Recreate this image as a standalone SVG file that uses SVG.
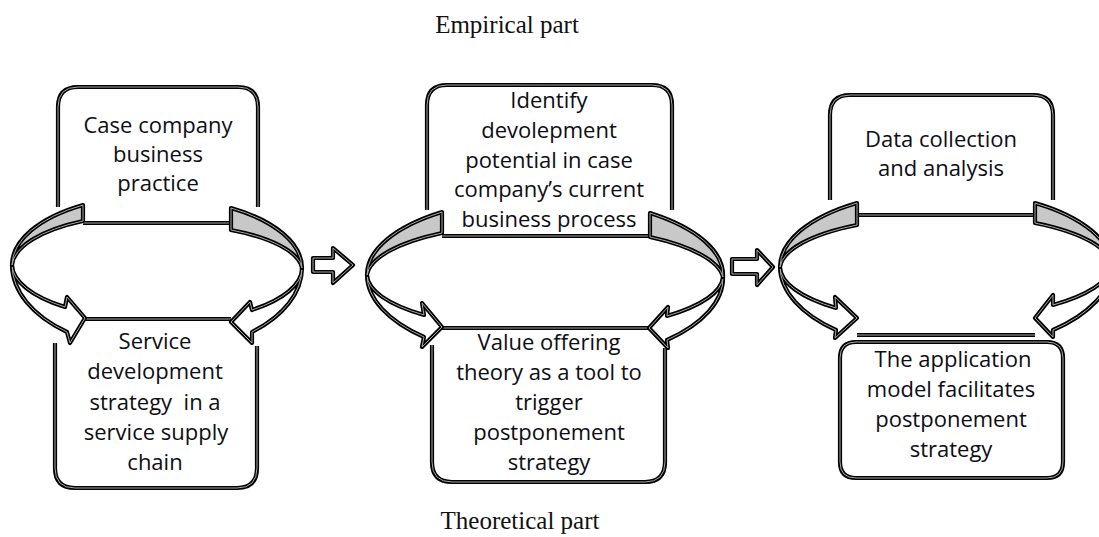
<svg xmlns="http://www.w3.org/2000/svg" xmlns:xlink="http://www.w3.org/1999/xlink" width="1099" height="537" viewBox="0 0 1099 537">
<style>
.ob{stroke:#000;stroke-width:4.2;stroke-linejoin:round}
.ib{fill:none;stroke:#a8a8a8;stroke-width:1;stroke-linejoin:round}
.nf{fill:none}
.wf{fill:#fff}
.gf{fill:#c8c8c8}
.t{font-family:"Open Sans","Noto Sans",sans-serif;font-size:22px;fill:#0d0d14;text-anchor:middle}
.h{font-family:"Liberation Serif","Times New Roman",serif;font-size:25px;fill:#111;text-anchor:middle}
</style>
<defs>
<path id="b1t" d="M58,207 V107 Q58,87 78,87 H238 Q258,87 258,107 V207 M83,223 H231"/>
<path id="b1b" d="M85,319 H231 M55,343 V468 Q55,488 75,488 H237 Q257,488 257,468 V346"/>
<path id="b2t" d="M427,210 V105 Q427,85 447,85 H652 Q672,85 672,105 V210 M442,236 H650"/>
<path id="b2b" d="M442,328 H649 M432,345 V462 Q432,482 452,482 H645 Q665,482 665,462 V348"/>
<path id="b3t" d="M830,200 V115 Q830,95 850,95 H1033 Q1053,95 1053,115 V200 M857,215 H1035"/>
<path id="b3b" d="M857,335 H1035 M856,342 H1047 Q1063,342 1063,358 V462 Q1063,478 1047,478 H856 Q840,478 840,462 V358 Q840,342 856,342 Z"/>
<path id="g1l" d="M83,205 A145,70 0 0 0 12,265 A141,53 0 0 1 83,221 Z"/>
<path id="w1l" d="M12,265 A145,86 0 0 0 67,332 L70,343 L85,318 L67,297 L65,307 A142,55 0 0 1 12,265 Z"/>
<path id="g1r" d="M231,208 A145,70 0 0 1 302,268 A141,47 0 0 0 231,230 Z"/>
<path id="w1r" d="M302,268 A145,85 0 0 1 252,332 L252,343 L231,322 L250,302 L252,310 A143,55 0 0 0 302,268 Z"/>
<path id="g2l" d="M442,212 A178,77 0 0 0 367,275 A174,54 0 0 1 442,233 Z"/>
<path id="w2l" d="M367,275 A178,85 0 0 0 424,337 L422,347 L442,327 L422,303 L424,315 A176,55 0 0 1 367,275 Z"/>
<path id="g2r" d="M650,213 A178,77 0 0 1 723,277 A174,54 0 0 0 650,237 Z"/>
<path id="w2r" d="M723,277 A178,85 0 0 1 667,340 L668,348 L649,328 L668,307 L667,316 A176,55 0 0 0 723,277 Z"/>
<path id="g3l" d="M857,203 A166,76 0 0 0 780,267 A162,52 0 0 1 857,225 Z"/>
<path id="w3l" d="M780,267 A166,85 0 0 0 836,330 L835,338 L857,318 L835,297 L836,308 A164,55 0 0 1 780,267 Z"/>
<path id="g3r" d="M1035,203 A166,76 0 0 1 1112,267 A162,52 0 0 0 1035,223 Z"/>
<path id="w3r" d="M1112,267 A166,85 0 0 1 1053,330 L1053,337 L1035,318 L1053,295 L1053,305 A164,55 0 0 0 1112,267 Z"/>
<path id="a1" d="M313,258 H333 V248 L353,265 L333,283 V272 H313 Z"/>
<path id="a2" d="M732,259 H757 V250 L773,267 L757,285 V274 H732 Z"/>
</defs>
<rect width="1099" height="537" fill="#fff"/>
<text class="h" x="507" y="33">Empirical part</text>
<text class="h" x="520" y="529">Theoretical part</text>

<g id="node1-top">
<use xlink:href="#b1t" class="ob nf"/><use xlink:href="#b1t" class="ib"/>
<text class="t" x="158" y="133">Case company</text>
<text class="t" x="158" y="162">business</text>
<text class="t" x="158" y="191">practice</text>
</g>
<g id="node1-bottom">
<use xlink:href="#b1b" class="ob nf"/><use xlink:href="#b1b" class="ib"/>
<text class="t" x="155" y="349">Service</text>
<text class="t" x="155" y="379">development</text>
<text class="t" x="155" y="409.5" xml:space="preserve">strategy  in a</text>
<text class="t" x="156" y="439.5">service supply</text>
<text class="t" x="155" y="470">chain</text>
</g>
<g id="node2-top">
<use xlink:href="#b2t" class="ob nf"/><use xlink:href="#b2t" class="ib"/>
<text class="t" x="549" y="108">Identify</text>
<text class="t" x="549" y="137.8">devolepment</text>
<text class="t" x="549" y="167.5">potential in case</text>
<text class="t" x="549" y="197.3">company’s current</text>
<text class="t" x="549" y="227">business process</text>
</g>
<g id="node2-bottom">
<use xlink:href="#b2b" class="ob nf"/><use xlink:href="#b2b" class="ib"/>
<text class="t" x="549" y="350">Value offering</text>
<text class="t" x="549" y="380">theory as a tool to</text>
<text class="t" x="549" y="410">trigger</text>
<text class="t" x="549" y="440">postponement</text>
<text class="t" x="549" y="470">strategy</text>
</g>
<g id="node3-top">
<use xlink:href="#b3t" class="ob nf"/><use xlink:href="#b3t" class="ib"/>
<text class="t" x="941" y="147">Data collection</text>
<text class="t" x="941" y="176">and analysis</text>
</g>
<g id="node3-bottom">
<use xlink:href="#b3b" class="ob nf"/><use xlink:href="#b3b" class="ib"/>
<text class="t" x="953" y="367">The application</text>
<text class="t" x="951" y="397">model facilitates</text>
<text class="t" x="951" y="427">postponement</text>
<text class="t" x="951" y="457">strategy</text>
</g>

<g id="connectors">
<use xlink:href="#w1l" class="ob wf"/><use xlink:href="#w1l" class="ib"/>
<use xlink:href="#g1l" class="ob gf"/><use xlink:href="#g1l" class="ib"/>
<use xlink:href="#w1r" class="ob wf"/><use xlink:href="#w1r" class="ib"/>
<use xlink:href="#g1r" class="ob gf"/><use xlink:href="#g1r" class="ib"/>
<use xlink:href="#w2l" class="ob wf"/><use xlink:href="#w2l" class="ib"/>
<use xlink:href="#g2l" class="ob gf"/><use xlink:href="#g2l" class="ib"/>
<use xlink:href="#w2r" class="ob wf"/><use xlink:href="#w2r" class="ib"/>
<use xlink:href="#g2r" class="ob gf"/><use xlink:href="#g2r" class="ib"/>
<use xlink:href="#w3l" class="ob wf"/><use xlink:href="#w3l" class="ib"/>
<use xlink:href="#g3l" class="ob gf"/><use xlink:href="#g3l" class="ib"/>
<use xlink:href="#w3r" class="ob wf"/><use xlink:href="#w3r" class="ib"/>
<use xlink:href="#g3r" class="ob gf"/><use xlink:href="#g3r" class="ib"/>
<use xlink:href="#a1" class="ob wf"/><use xlink:href="#a1" class="ib"/>
<use xlink:href="#a2" class="ob wf"/><use xlink:href="#a2" class="ib"/>
</g>
</svg>
